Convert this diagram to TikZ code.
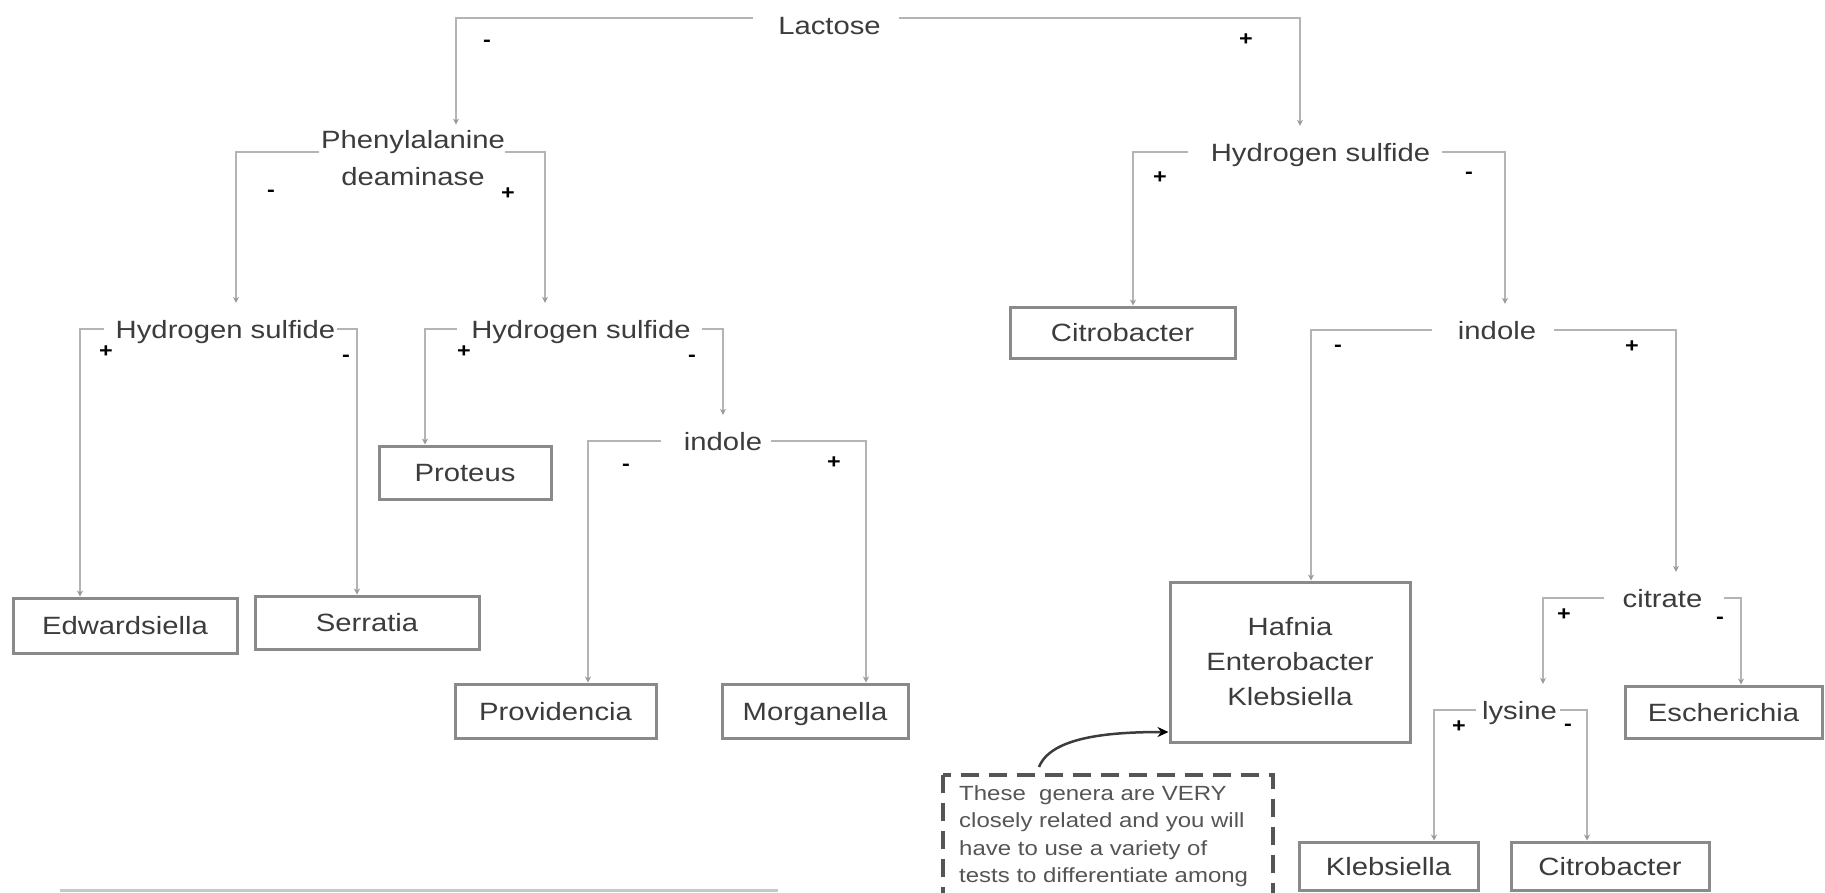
\documentclass[tikz,border=0pt]{standalone}
\usepackage{fontspec}
\setmainfont{Liberation Sans}[FakeStretch=1.17]
\usetikzlibrary{arrows.meta}
\definecolor{linegray}{HTML}{B4B4B4}
\definecolor{tipgray}{HTML}{9A9A9A}
\definecolor{boxgray}{HTML}{8A8A8A}
\definecolor{textgray}{HTML}{3C3C3C}
\definecolor{notegray}{HTML}{555555}
\definecolor{bottomgray}{HTML}{C8C8C8}
\newcommand\diagfont{\fontsize{25pt}{37pt}\selectfont}
\newcommand\hekfont{\fontsize{25pt}{35pt}\selectfont}
\newcommand\notefont{\fontsize{20.5pt}{27.5pt}\selectfont}
\newcommand\signfont{\fontsize{20pt}{24pt}\selectfont\bfseries}
\begin{document}
\begin{tikzpicture}[x=1pt,y=-1pt,
  dec/.style={font=\diagfont, text=textgray, inner xsep=0pt, inner ysep=17pt, text height=18pt, text depth=0pt},
  gbox/.style={draw=boxgray, line width=3pt, font=\diagfont, text=textgray, inner sep=0pt},
  gbox1/.style={gbox, text height=18pt, text depth=0pt},
  conn/.style={draw=linegray, line width=2.7pt, -{Stealth[length=6pt,width=6pt,color=tipgray]}},
  sgn/.style={font=\signfont, text=black, inner sep=0pt},
  notetext/.style={font=\notefont, text=notegray, align=left, inner xsep=16pt, inner ysep=10pt},
  notebox/.style={draw=notegray, line width=3.5pt, dash pattern=on 18pt off 10pt},
  callout/.style={draw=textgray, line width=2.5pt, -{Stealth[length=11pt,width=10pt,color=black]}},
]
\useasboundingbox (0,0) rectangle (1825,892);
\clip (0,0) rectangle (1825,892);

% decision nodes
\node[dec] (lact) at (829.5,25) {Lactose};
\node[font=\diagfont, text=textgray, align=center, inner sep=0pt] (phen) at (413,158.5) {Phenylalanine\\deaminase};
\node[dec] (h2sL) at (225.5,329) {Hydrogen sulfide};
\node[dec] (h2sM) at (581,329) {Hydrogen sulfide};
\node[dec] (indM) at (723,441) {indole};
\node[dec] (h2sR) at (1320.5,152) {Hydrogen sulfide};
\node[dec] (indR) at (1497,330) {indole};
\node[dec] (cit) at (1662.5,598) {citrate};
\node[dec] (lys) at (1519.5,710) {lysine};

% result boxes
\node[gbox1, minimum width=224pt, minimum height=55pt] (edw) at (125,625.5) {Edwardsiella};
\node[gbox1, minimum width=224pt, minimum height=53pt] (ser) at (367,622.5) {Serratia};
\node[gbox1, minimum width=172pt, minimum height=53pt] (pro) at (465,472.5) {Proteus};
\node[gbox1, minimum width=201pt, minimum height=54pt] (prov) at (555.5,711) {Providencia};
\node[gbox1, minimum width=186pt, minimum height=54pt] (morg) at (815,711) {Morganella};
\node[gbox1, minimum width=225pt, minimum height=51pt] (cit1) at (1122.5,332.5) {Citrobacter};
\node[gbox, font=\hekfont, align=center, minimum width=240pt, minimum height=160pt] (hek) at (1290,662) {Hafnia\\Enterobacter\\Klebsiella};
\node[gbox1, minimum width=197pt, minimum height=52pt] (esch) at (1723.5,712) {Escherichia};
\node[gbox1, minimum width=179pt, minimum height=48pt] (kleb) at (1388.5,866) {Klebsiella};
\node[gbox1, minimum width=198pt, minimum height=48pt] (cit2) at (1610,866) {Citrobacter};

% connectors
\draw[conn] ([xshift=-25pt,yshift=7pt]lact.west) -| ([xshift=43pt,yshift=6pt]phen.north);
\draw[conn] ([xshift=18pt,yshift=7pt]lact.east) -| ([xshift=-20.5pt]h2sR.north);
\draw[conn] ([xshift=-2pt,yshift=6.5pt]phen.west) -| ([xshift=10.5pt]h2sL.north);
\draw[conn] ([yshift=6.5pt]phen.east) -| ([xshift=-36pt]h2sM.north);
\draw[conn] ([xshift=-12pt]h2sL.west) -| ([xshift=-45pt]edw.north);
\draw[conn] ([xshift=2pt]h2sL.east) -| ([xshift=-10pt]ser.north);
\draw[conn] ([xshift=-14pt]h2sM.west) -| ([xshift=-40pt]pro.north);
\draw[conn] ([xshift=11pt]h2sM.east) -| (indM.north);
\draw[conn] ([xshift=-23pt]indM.west) -| ([xshift=32.5pt]prov.north);
\draw[conn] ([xshift=9pt]indM.east) -| ([xshift=51pt]morg.north);
\draw[conn] ([xshift=-23pt]h2sR.west) -| ([xshift=10.5pt]cit1.north);
\draw[conn] ([xshift=12pt]h2sR.east) -| ([xshift=8pt]indR.north);
\draw[conn] ([xshift=-26pt]indR.west) -| ([xshift=21pt]hek.north);
\draw[conn] ([xshift=18pt]indR.east) -| ([xshift=13.5pt]cit.north);
\draw[conn] ([xshift=-18pt]cit.west) -| ([xshift=23.5pt]lys.north);
\draw[conn] ([xshift=21pt]cit.east) -| ([xshift=17.5pt]esch.north);
\draw[conn] ([xshift=-6pt]lys.west) -| ([xshift=45.5pt]kleb.north);
\draw[conn] ([xshift=3pt]lys.east) -| ([xshift=-23pt]cit2.north);

% signs
\node[sgn] (s1) at (487,43) {-};
\node[sgn] (s2) at (1246,40) {+};
\node[sgn] (s3) at (271,193) {-};
\node[sgn] (s4) at (508,194) {+};
\node[sgn] (s5) at (106,352) {+};
\node[sgn] (s6) at (346,358) {-};
\node[sgn] (s7) at (464,352) {+};
\node[sgn] (s8) at (692,358) {-};
\node[sgn] (s9) at (626,467) {-};
\node[sgn] (s10) at (834,463) {+};
\node[sgn] (s11) at (1160,178) {+};
\node[sgn] (s12) at (1469,175) {-};
\node[sgn] (s13) at (1338,348) {-};
\node[sgn] (s14) at (1632,347) {+};
\node[sgn] (s15) at (1564,615) {+};
\node[sgn] (s16) at (1720,620) {-};
\node[sgn] (s17) at (1459,727) {+};
\node[sgn] (s18) at (1568,727) {-};

% note
\node[notetext, anchor=north west] (note) at (943,775) {These\ \ genera are VERY\\closely related and you will\\have to use a variety of\\tests to differentiate among};
\draw[notebox] (note.north west) rectangle ++(330,150);
\draw[callout] ([xshift=96pt,yshift=8pt]note.north west) .. controls +(12,-30) and +(-60,0) .. ([yshift=-70pt]hek.west);

% cut-off box edge at the bottom
\draw[draw=bottomgray, line width=3pt] (60,890) -- (778,890);
\end{tikzpicture}
\end{document}
